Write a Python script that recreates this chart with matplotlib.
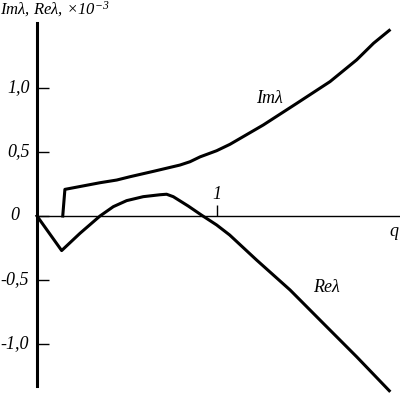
import matplotlib
matplotlib.use("Agg")
import matplotlib.pyplot as plt

# Data
im_q = [0.143, 0.155, 0.35, 0.443, 0.517, 0.65, 0.794, 0.85, 0.906, 0.998, 1.072, 1.257,
        1.443, 1.628, 1.776, 1.87, 1.957]
im_v = [0.0, 0.208, 0.26, 0.281, 0.307, 0.35, 0.398, 0.424, 0.462, 0.51, 0.56, 0.711,
        0.88, 1.05, 1.22, 1.35, 1.45]

re_q = [0.0, 0.137, 0.239, 0.35, 0.424, 0.498, 0.59, 0.683, 0.72, 0.757, 0.84,
        0.915, 0.998, 1.07, 1.22, 1.406, 1.59, 1.776, 1.957]
re_v = [0.0, -0.27, -0.135, 0.0, 0.073, 0.12, 0.151, 0.166, 0.17, 0.151, 0.078,
        0.006, -0.07, -0.148, -0.344, -0.578, -0.838, -1.10, -1.365]

yticks = [1.0, 0.5, 0.0, -0.5, -1.0]
yticklabels = ["1,0", "0,5", "0", "-0,5", "-1,0"]
xticks = [1]
xticklabels = ["1"]

plt.rcParams['font.family'] = ['Liberation Serif', 'DejaVu Serif']
plt.rcParams['mathtext.fontset'] = 'custom'
plt.rcParams['mathtext.rm'] = 'Liberation Serif:italic'
plt.rcParams['mathtext.it'] = 'Liberation Serif:italic'
plt.rcParams['mathtext.default'] = 'it'

FS = 13

fig = plt.figure(figsize=(4.0, 3.93), dpi=100)
ax = fig.add_axes([0, 0, 1, 1])
ax.set_xlim(-37 / 180, 363 / 180)
ax.set_ylim(-177 / 128, 216 / 128)

ax.plot(im_q, im_v, color='black', lw=2.2, solid_joinstyle='round')
ax.plot(re_q, re_v, color='black', lw=2.2, solid_joinstyle='round')

for s in ['top', 'right']:
    ax.spines[s].set_visible(False)
ax.spines['left'].set_position(('data', 0))
ax.spines['left'].set_bounds(-1.33, 1.51)
ax.spines['left'].set_linewidth(2.2)
ax.spines['bottom'].set_position(('data', 0))
ax.spines['bottom'].set_bounds(0, 2.01)
ax.spines['bottom'].set_linewidth(1.0)

ax.set_yticks(yticks)
ax.set_yticklabels([])
ax.tick_params(axis='y', direction='in', length=8.5, width=1.0)
ax.set_xticks(xticks)
ax.set_xticklabels([])
ax.tick_params(axis='x', direction='in', length=8, width=1.0)

# y tick labels placed like the reference (left-ish aligned)
label_left = {"1,0": -0.167, "0,5": -0.167, "0": -0.15, "-0,5": -0.205, "-1,0": -0.205}
for y, lab in zip(yticks, yticklabels):
    ax.text(label_left[lab], y, lab, ha='left', va='center',
            fontstyle='italic', fontsize=FS)

ax.text(1.0, 0.17, xticklabels[0], ha='center', va='center',
        fontstyle='italic', fontsize=FS)
ax.text(1.983, -0.125, "q", ha='center', va='center', fontstyle='italic', fontsize=FS)
ax.text(1.294, 0.92, "Imλ", ha='center', va='center', fontstyle='italic', fontsize=FS)
ax.text(1.61, -0.555, "Reλ", ha='center', va='center', fontstyle='italic', fontsize=FS)
ax.text(-0.205, 1.615, "Imλ, Reλ, ×10$^{-3}$", ha='left', va='center',
        fontstyle='italic', fontsize=12)

fig.savefig("out.png", dpi=100)
